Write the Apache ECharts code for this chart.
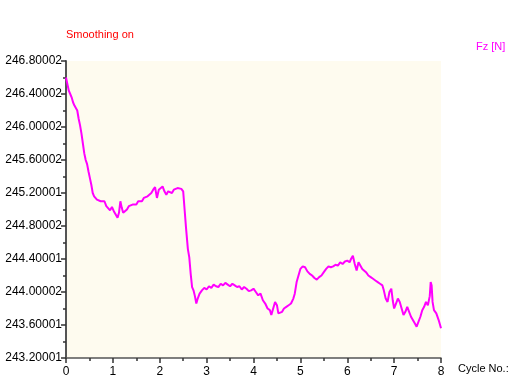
<!DOCTYPE html>
<html>
<head>
<meta charset="utf-8">
<script src="https://cdn.jsdelivr.net/npm/echarts@6/dist/echarts.min.js"></script>
<style>
  html, body { margin: 0; padding: 0; background: #ffffff; }
  #chart { width: 510px; height: 387px; }
</style>
</head>
<body>
<div id="chart"></div>
<script>
// Cycle position (x) and measured Fz force (y)
const cycleX = [
  0.00,0.03,0.06,0.09,0.12,0.15,0.18,0.21,0.24,0.27,0.30,0.33,0.36,0.39,0.42,0.45,0.48,0.51,0.54,0.57,
  0.60,0.63,0.66,0.70,0.74,0.78,0.82,0.86,0.90,0.94,0.98,1.02,1.06,1.10,1.13,1.16,1.19,1.22,1.26,1.30,
  1.34,1.38,1.42,1.46,1.50,1.54,1.58,1.62,1.66,1.70,1.74,1.78,1.82,1.86,1.90,1.94,1.98,2.02,2.06,2.10,
  2.14,2.18,2.22,2.26,2.30,2.34,2.38,2.42,2.46,2.50,2.53,2.56,2.60,2.63,2.66,2.69,2.72,2.75,2.78,2.81,
  2.85,2.90,2.95,3.00,3.05,3.10,3.15,3.20,3.25,3.30,3.35,3.40,3.45,3.50,3.55,3.60,3.65,3.70,3.75,3.80,
  3.85,3.90,3.95,4.00,4.05,4.10,4.15,4.20,4.25,4.30,4.35,4.38,4.42,4.46,4.50,4.53,4.57,4.61,4.65,4.70,
  4.75,4.80,4.85,4.88,4.92,4.96,5.00,5.05,5.10,5.15,5.20,5.25,5.30,5.35,5.40,5.45,5.50,5.55,5.60,5.65,
  5.70,5.75,5.80,5.85,5.90,5.95,6.00,6.05,6.08,6.12,6.16,6.20,6.24,6.28,6.32,6.36,6.40,6.45,6.50,6.55,
  6.60,6.65,6.70,6.75,6.78,6.82,6.86,6.90,6.94,6.97,7.00,7.04,7.08,7.12,7.16,7.20,7.24,7.28,7.32,7.36,
  7.40,7.44,7.48,7.52,7.56,7.60,7.64,7.68,7.72,7.76,7.78,7.80,7.82,7.85,7.90,7.95,8.00
];
const fzValues = [
  246.60,246.52,246.44,246.40,246.36,246.30,246.26,246.28,246.20,246.10,246.02,245.92,245.80,245.68,245.60,245.55,245.46,245.38,245.30,245.20,
  245.16,245.14,245.12,245.14,245.10,245.08,245.10,245.04,245.06,244.99,245.03,244.98,244.94,244.90,244.96,245.10,245.02,244.96,244.94,245.00,
  245.04,245.02,245.06,245.08,245.06,245.10,245.12,245.10,245.14,245.12,245.16,245.14,245.20,245.24,245.27,245.14,245.24,245.26,245.28,245.22,
  245.18,245.22,245.24,245.20,245.24,245.22,245.26,245.24,245.25,245.22,245.00,244.78,244.52,244.42,244.22,244.06,244.02,243.95,243.86,243.92,
  243.98,244.02,244.05,244.03,244.07,244.05,244.09,244.07,244.06,244.10,244.08,244.11,244.09,244.07,244.10,244.08,244.06,244.07,244.03,244.06,
  244.04,244.01,244.02,244.04,244.00,243.96,243.98,243.90,243.86,243.80,243.78,243.72,243.80,243.88,243.84,243.74,243.72,243.76,243.80,243.82,
  243.84,243.86,243.92,243.98,244.12,244.20,244.28,244.31,244.30,244.25,244.22,244.20,244.17,244.15,244.18,244.20,244.24,244.28,244.31,244.30,
  244.31,244.33,244.32,244.36,244.34,244.37,244.38,244.36,244.40,244.44,244.34,244.26,244.36,244.34,244.28,244.30,244.24,244.20,244.18,244.16,
  244.14,244.12,244.10,244.08,244.02,243.92,243.88,244.00,244.04,243.90,243.80,243.86,243.92,243.88,243.80,243.72,243.76,243.82,243.76,243.70,
  243.66,243.62,243.58,243.60,243.70,243.78,243.82,243.88,243.84,243.95,244.12,244.08,243.88,243.78,243.74,243.66,243.56
];
// Y tick labels as printed by the instrument software
const yTickLabels = [
  '243.20001','243.60001','244.00002','244.40001','244.80002',
  '245.20001','245.60002','246.00002','246.40002','246.80002'
];
const yMin = 243.2, yMax = 246.8, yStep = 0.4;
const xTickLabels = ['0','1','2','3','4','5','6','7','8'];

const seriesData = cycleX.map((x, i) => [x, fzValues[i]]);

const chart = echarts.init(document.getElementById('chart'), null, { renderer: 'canvas' });
const axisFont = { fontFamily: 'Liberation Sans', fontSize: 12, color: '#000' };

chart.setOption({
  animation: false,
  backgroundColor: '#ffffff',
  grid: {
    left: 66, right: 69, top: 61, bottom: 29,
    show: true, backgroundColor: '#FEFBEF', borderWidth: 0
  },
  graphic: [
    { type: 'text', left: 66, top: 29, style: { text: 'Smoothing on', fill: '#ff0000', font: '11px "Liberation Sans"' } },
    { type: 'text', left: 476, top: 41, style: { text: 'Fz [N]', fill: '#ff00ff', font: '11px "Liberation Sans"' } },
    { type: 'text', left: 458, top: 363, style: { text: 'Cycle No.: 1', fill: '#000', font: '11px "Liberation Sans"' } }
  ],
  xAxis: {
    type: 'value', min: 0, max: 8, interval: 1,
    axisLine: { show: true, lineStyle: { color: '#555', width: 1.5 } },
    axisTick: { show: true, length: 5, lineStyle: { color: '#333', width: 1.5 } },
    minorTick: { show: true, splitNumber: 2, length: 3, lineStyle: { color: '#333', width: 1.5 } },
    splitLine: { show: false },
    axisLabel: Object.assign({ margin: 8, formatter: v => xTickLabels[Math.round(v)] }, axisFont)
  },
  yAxis: {
    type: 'value', min: yMin, max: yMax, interval: yStep,
    axisLine: { show: true, onZero: false, lineStyle: { color: '#555', width: 2 } },
    axisTick: { show: true, length: 5, lineStyle: { color: '#333', width: 1.5 } },
    minorTick: { show: true, splitNumber: 2, length: 3, lineStyle: { color: '#333', width: 1.5 } },
    splitLine: { show: false },
    axisLabel: Object.assign({ margin: 4, formatter: v => yTickLabels[Math.round((v - yMin) / yStep)] }, axisFont)
  },
  series: [{
    type: 'line',
    data: seriesData,
    showSymbol: false,
    smooth: false,
    lineStyle: { color: '#ff00ff', width: 2 },
    itemStyle: { color: '#ff00ff' }
  }]
});
</script>
</body>
</html>
